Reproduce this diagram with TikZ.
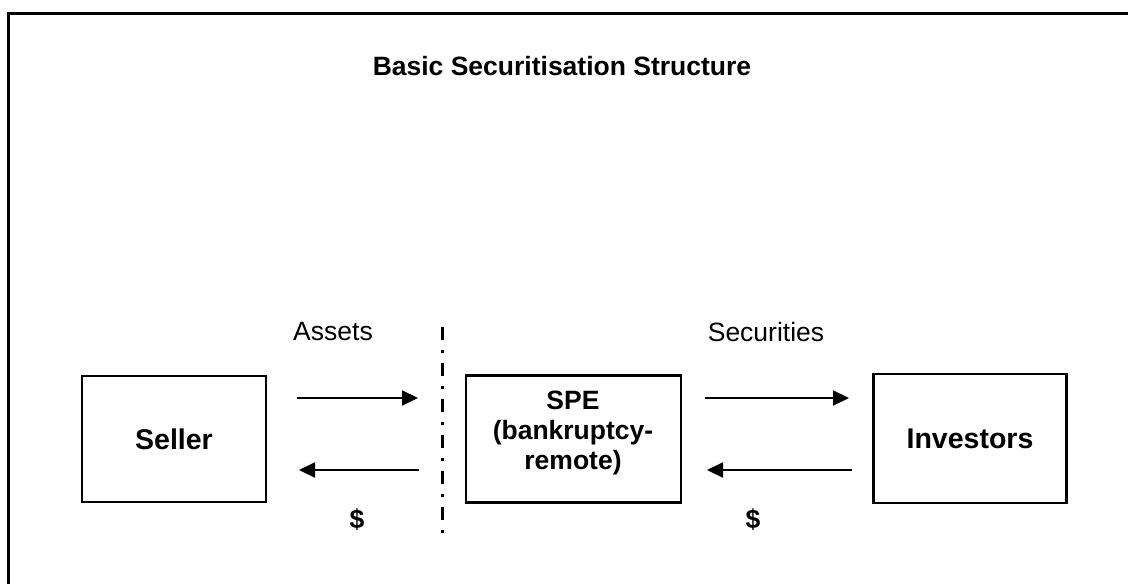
\documentclass[tikz,border=0pt]{standalone}
\usepackage{fontspec}
\setmainfont{Liberation Sans}
\usetikzlibrary{arrows.meta}
\tikzset{
  boxnode/.style={draw=black, line width=2.2pt, rectangle, inner sep=0pt},
  txt/.style={font=\fontsize{26.5}{30}\selectfont, inner sep=0pt, align=center},
  btxt/.style={font=\fontsize{26.5}{30}\selectfont\bfseries, inner sep=0pt, align=center},
  bigtxt/.style={font=\fontsize{28.5}{32}\selectfont\bfseries, inner sep=0pt, align=center},
  arr/.style={line width=2.2pt, -{Triangle[length=16pt,width=15pt]}},
  divider/.style={line width=3pt, dash pattern=on 13pt off 10pt on 3pt off 10pt},
  frame/.style={line width=3pt}
}
\begin{document}
\begin{tikzpicture}[x=1pt,y=-1pt]
\useasboundingbox (0,0) rectangle (1128,584);
% outer frame (clipped on right and bottom)
\coordinate (fbl) at (8.5,590);
\coordinate (ftl) at (8.5,13.5);
\coordinate (ftr) at (1134,13.5);
\draw[frame] (fbl) -- (ftl) -- (ftr);
% title
\node[btxt] (title) at (562,66) {Basic Securitisation Structure};
% boxes
\node[boxnode, minimum width=184pt, minimum height=126pt, bigtxt] (seller) at (174,439) {Seller};
\node[boxnode, minimum width=215pt, minimum height=127pt] (spe) at (573.5,439) {};
\node[btxt] (spetext) at (573,433) {SPE\\(bankruptcy-\\remote)};
\node[boxnode, minimum width=193pt, minimum height=129pt, bigtxt] (investors) at (970,438.5) {Investors};
% labels
\node[txt] (assets) at (333,332) {Assets};
\node[txt] (securities) at (766,332) {Securities};
\node[btxt] (dl) at (357,520) {\$};
\node[btxt] (dr) at (753,520) {\$};
% divider
\coordinate (dtop) at (442,327);
\coordinate (dbot) at (442,537);
\draw[divider] (dtop) -- (dbot);
% arrows
\coordinate (a1s) at (297,398);
\coordinate (a1e) at (418,398);
\coordinate (a2s) at (419,470);
\coordinate (a2e) at (299,470);
\coordinate (a3s) at (705,398);
\coordinate (a3e) at (849,398);
\coordinate (a4s) at (852,470);
\coordinate (a4e) at (707,470);
\draw[arr] (a1s) -- (a1e);
\draw[arr] (a2s) -- (a2e);
\draw[arr] (a3s) -- (a3e);
\draw[arr] (a4s) -- (a4e);
\end{tikzpicture}
\end{document}
